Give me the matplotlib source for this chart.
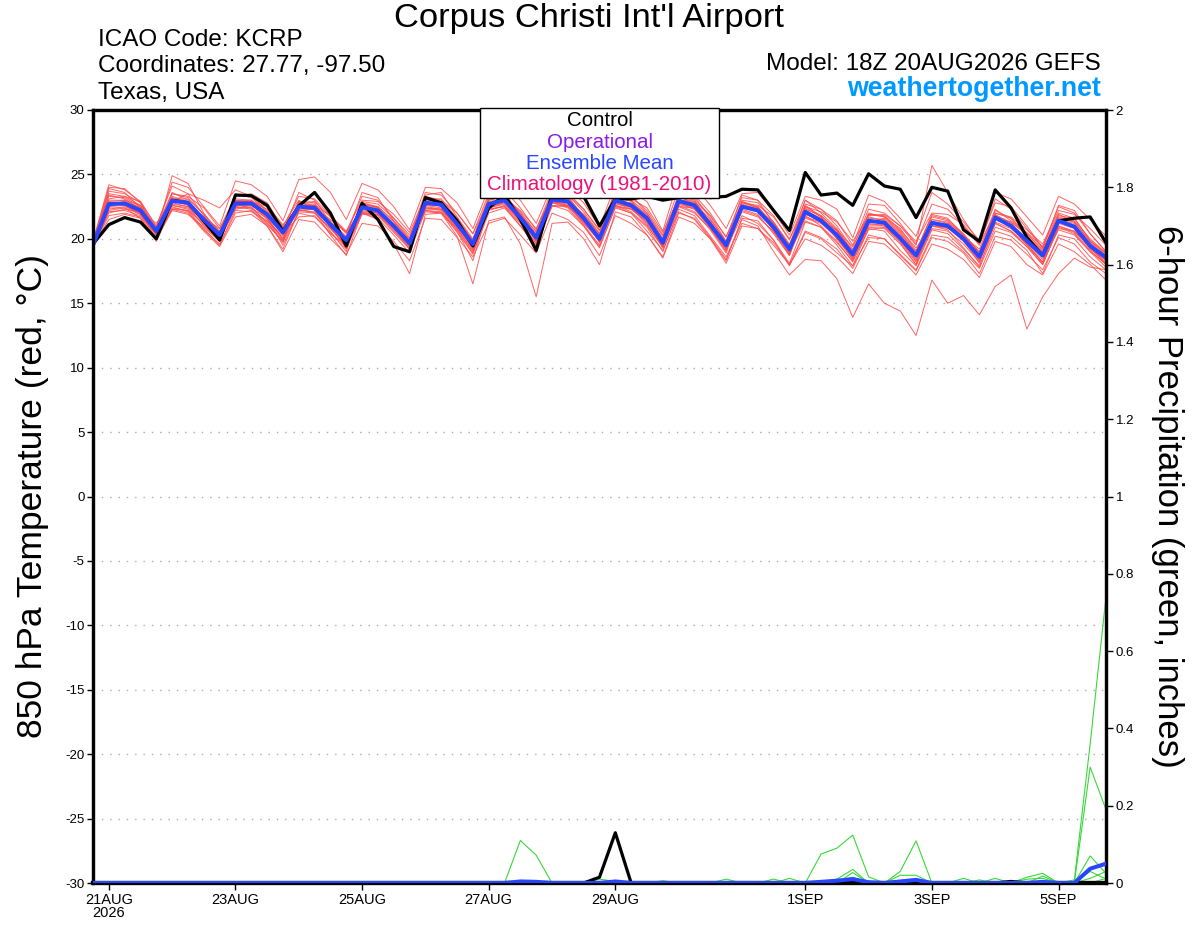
import matplotlib
matplotlib.use("Agg")
import matplotlib.pyplot as plt
from matplotlib.patches import Rectangle
import pandas as pd

plt.rcParams['font.family'] = ['Liberation Sans', 'DejaVu Sans']

# 6-hourly forecast times, 18Z 20AUG2026 -> 18Z 5SEP2026
times = pd.date_range("2026-08-20 18:00", periods=65, freq="6h")

tick_days = ["2026-08-21", "2026-08-23", "2026-08-25", "2026-08-27",
             "2026-08-29", "2026-09-01", "2026-09-03", "2026-09-05"]
tick_labels = ["21AUG\n2026", "23AUG", "25AUG", "27AUG", "29AUG", "1SEP", "3SEP", "5SEP"]

# 850 hPa temperature (C)
control_t = [19.6, 21.1,21.65,21.3,20.0, 23.0,22.8,21.4,19.9, 23.4,23.35,22.6,20.6,
             22.55,23.6,22.0,19.45, 22.75,21.5,19.4,19.0, 23.2,22.8,21.4,19.45,
             22.4,23.4,21.5,19.1, 23.4,23.6,23.3,21.0, 23.1,23.1,23.3,23.0,
             23.2,23.3,23.2,23.3, 23.85,23.8,22.2,20.65, 25.15,23.4,23.55,22.6,
             25.05,24.1,23.85,21.65, 24.0,23.7,20.7,19.8, 23.8,22.4,20.1,18.7,
             21.4,21.6,21.7,19.7]

mean_t = [19.5, 22.7,22.75,22.2,20.6, 22.95,22.8,21.5,20.3, 22.75,22.75,21.9,20.5,
          22.5,22.4,21.1,19.9, 22.45,22.2,21.0,19.65, 22.8,22.65,21.15,19.6,
          22.7,23.0,21.65,20.1, 23.05,22.9,21.6,20.0, 23.0,22.6,21.6,19.7,
          22.95,22.6,21.1,19.5, 22.5,22.2,20.9,19.2, 22.1,21.4,20.3,18.8,
          21.4,21.25,20.05,18.7, 21.25,21.0,20.0,18.6, 21.65,21.0,19.85,18.7,
          21.4,20.95,19.45,18.55]

members_t = [
    [19.8, 24.2,23.8,22.9,20.9, 24.4,24.0,22.5,21.0, 24.5,24.2,23.3,21.4, 24.6,24.8,23.6,21.5, 24.3,23.8,22.5,20.7, 24.0,23.9,22.8,20.8, 23.9,24.2,23.0,21.2, 24.1,23.9,22.8,20.9, 24.2,23.6,22.9,20.6, 24.7,24.1,22.6,20.8, 23.5,23.6,22.1,20.3, 23.3,23.0,22.3,20.1, 23.4,22.9,21.6,20.2, 23.6,22.7,21.3,19.9, 23.6,23.1,21.7,20.3, 23.3,22.7,21.5,20.2],
    [19.4, 21.5,21.9,21.6,20.1, 22.3,22.0,20.6,19.4, 21.7,21.9,21.0,19.0, 21.5,21.3,20.0,18.8, 21.2,21.0,19.8,18.3, 21.6,21.5,20.1,18.6, 21.2,21.6,20.3,18.9, 22.0,21.5,20.5,18.7, 21.8,21.2,20.3,18.5, 21.7,21.2,20.0,18.1, 21.0,20.8,19.5,18.0, 20.6,20.1,19.2,17.7, 20.3,20.0,18.7,17.5, 20.1,19.8,18.9,17.3, 20.2,19.9,18.8,17.6, 20.1,19.6,18.2,17.3],
    [19.6, 22.9,23.0,22.6,20.5, 23.3,22.9,21.3,20.0, 22.3,22.5,21.2,19.8, 22.0,21.7,20.5,19.2, 22.0,21.6,20.3,18.9, 22.2,22.0,20.8,19.1, 22.3,22.5,21.2,19.7, 22.6,22.2,21.0,19.4, 22.4,22.0,20.6,19.1, 22.1,21.5,20.0,18.3, 21.5,21.0,19.0,17.2, 18.4,18.3,16.9,13.9, 16.5,15.0,14.4,12.5, 16.8,15.0,15.6,14.1, 16.3,17.2,13.0,15.5, 17.3,18.5,17.8,17.6],
    [19.7, 23.4,23.1,22.3,20.8, 23.5,23.2,21.9,20.6, 23.1,23.0,22.0,20.4, 22.8,22.6,21.2,19.6, 22.3,22.0,20.7,19.2, 22.5,22.3,20.8,19.0, 22.2,22.6,21.3,19.6, 22.8,22.4,21.0,19.3, 22.5,22.0,20.9,19.0, 22.3,21.8,20.2,18.6, 21.2,20.8,19.7,18.0, 20.0,19.5,18.6,17.3, 19.8,19.6,18.5,17.2, 19.6,19.2,18.4,17.0, 19.8,19.4,18.0,17.2, 19.6,19.0,18.0,16.8],
    [19.5, 22.0,22.3,22.1,21.2, 22.9,23.5,23.0,22.4, 23.8,23.3,22.2,20.8, 22.4,22.6,21.8,20.6, 23.0,22.9,21.9,20.5, 23.3,23.0,22.0,20.4, 22.9,23.1,22.2,20.8, 23.4,23.4,22.3,20.7, 23.3,23.1,22.4,20.5, 23.2,22.9,21.8,20.2, 22.8,22.6,21.7,20.0, 22.5,22.1,21.3,19.8, 21.8,21.9,21.0,19.8, 22.0,21.9,21.1,19.6, 22.0,21.7,20.7,19.6, 22.2,21.9,20.8,19.5],
    [19.3, 22.5,22.6,21.9,20.3, 22.8,22.5,21.0,19.9, 22.5,22.7,21.5,19.9, 22.9,22.8,21.0,19.3, 22.1,21.8,20.5,19.2, 23.0,22.9,21.3,19.4, 23.2,23.5,21.9,19.8, 23.5,23.2,21.8,19.7, 23.3,22.9,21.8,19.3, 23.1,22.5,20.9,19.0, 22.9,22.5,21.1,19.0, 22.6,21.7,20.3,18.4, 21.7,21.4,20.3,18.6, 21.3,21.0,19.9,18.1, 21.8,20.9,19.6,18.2, 21.5,21.2,19.3,18.3],
    [19.6, 23.7,23.5,22.8,20.7, 23.0,22.6,21.4,20.1, 22.6,22.9,22.3,21.0, 23.0,22.2,20.6,19.0, 22.8,22.5,21.4,20.0, 23.3,22.5,21.0,19.2, 22.5,22.9,21.5,20.0, 23.0,22.8,21.9,20.4, 23.4,23.0,21.5,19.5, 23.6,23.3,21.6,19.7, 22.7,22.3,21.2,19.5, 23.0,22.0,20.8,19.0, 21.9,21.8,20.7,19.3, 21.0,20.8,20.2,19.2, 22.3,21.4,20.5,19.4, 22.0,21.6,19.8,18.9],
    [19.4, 22.1,22.2,21.8,20.4, 22.5,22.1,20.7,19.6, 22.2,22.1,21.4,20.2, 22.2,22.3,21.2,20.1, 22.7,22.4,20.9,19.5, 22.4,22.2,20.7,18.8, 22.0,22.4,21.0,19.5, 22.5,22.6,21.3,20.2, 22.6,22.3,21.4,19.8, 22.9,22.8,21.5,19.8, 22.3,21.9,20.4,18.7, 21.8,21.0,19.8,18.2, 21.0,21.0,19.7,18.0, 21.5,21.2,20.1,18.3, 21.2,20.6,19.4,18.0, 21.0,20.5,19.1,18.0],
    [19.7, 23.1,23.3,22.9,21.0, 24.1,23.5,21.8,20.3, 23.0,22.8,21.6,19.5, 22.1,22.0,20.8,19.6, 22.9,22.7,21.6,20.3, 22.9,22.5,21.2,19.4, 23.1,23.2,21.9,20.3, 23.6,23.3,21.7,20.1, 23.2,22.7,21.5,19.6, 22.8,22.4,21.3,19.6, 22.6,22.3,21.3,19.6, 21.9,21.6,20.6,19.1, 21.3,21.6,20.5,18.9, 21.8,21.5,20.4,18.9, 21.6,21.3,20.4,19.1, 21.9,21.3,19.8,18.7],
    [19.5, 22.8,22.6,22.0,20.0, 22.2,21.9,20.9,19.8, 22.9,23.0,22.0,20.4, 21.7,21.8,20.4,19.5, 22.6,22.5,21.3,19.9, 22.1,22.0,20.6,18.3, 22.5,22.8,21.4,20.0, 22.9,22.6,21.1,19.5, 22.7,22.5,21.7,19.9, 22.6,22.1,20.7,18.9, 22.4,22.5,21.0,19.0, 21.6,21.2,20.1,18.5, 20.9,20.8,19.6,18.0, 21.0,20.7,19.3,17.8, 21.3,20.8,19.7,18.4, 20.7,20.3,19.0,17.8],
    [19.6, 23.9,23.6,22.4,20.3, 24.9,24.3,22.0,20.4, 23.5,23.2,22.1,20.5, 23.6,23.0,21.3,20.2, 23.6,23.2,21.4,19.9, 23.4,23.6,21.7,20.0, 23.3,23.5,21.8,19.9, 23.1,23.0,21.9,20.3, 23.7,23.4,22.0,20.0, 23.2,23.1,21.8,19.8, 23.4,23.0,21.2,19.3, 22.7,22.3,21.0,19.2, 22.3,22.0,21.0,19.5, 25.7,23.6,21.5,19.7, 22.8,22.5,21.0,19.3, 22.6,22.2,20.4,19.0],
    [19.5, 22.4,22.4,21.9,20.5, 22.6,22.3,21.1,19.8, 22.7,22.4,21.6,20.0, 22.8,22.9,21.7,20.4, 22.0,21.9,20.6,19.4, 22.6,22.6,21.4,19.9, 23.0,23.3,22.0,20.3, 22.9,22.7,21.5,19.9, 22.8,22.4,21.1,19.3, 22.5,22.4,21.4,19.4, 22.8,22.4,20.7,18.8, 22.3,21.8,20.7,18.9, 21.5,21.2,19.9,18.4, 21.2,21.2,20.2,18.7, 21.9,21.2,20.0,18.6, 21.2,20.8,19.2,18.3],
    [19.7, 23.0,23.0,22.4,20.7, 23.1,23.1,21.9,20.5, 22.4,22.6,21.9,20.7, 22.6,22.5,21.4,19.8, 22.3,22.3,21.1,19.6, 22.9,22.8,21.6,19.8, 22.7,23.1,21.8,20.6, 23.2,23.1,21.6,20.0, 22.9,22.8,21.9,19.8, 23.3,23.0,21.2,19.3, 22.6,22.1,21.0,19.3, 22.2,21.6,20.4,18.9, 21.6,21.5,20.4,18.9, 21.5,21.3,20.3,18.8, 21.5,21.0,19.9,18.8, 21.6,21.3,19.7,18.6],
    [19.5, 22.6,22.9,22.4,20.9, 23.2,22.8,21.2,20.0, 22.6,22.6,21.7,20.3, 22.3,22.0,20.8,19.4, 21.9,21.9,20.8,19.7, 22.3,22.3,21.0,19.6, 22.8,23.0,21.6,19.9, 23.0,22.9,21.4,19.8, 22.9,22.5,21.2,19.4, 22.8,22.3,20.8,19.1, 22.2,21.8,20.5,18.9, 21.4,20.9,19.7,18.3, 20.7,20.9,19.8,18.2, 20.8,20.6,19.6,18.2, 21.2,20.6,19.6,18.1, 20.8,20.6,19.4,18.1],
    [19.4, 22.3,22.5,22.0,20.8, 23.0,22.7,21.6,20.8, 23.0,22.9,22.5,21.1, 22.5,22.4,21.5,20.5, 22.4,22.1,21.1,19.8, 22.7,22.7,21.5,19.9, 22.6,22.9,21.6,20.4, 23.2,22.8,21.2,19.9, 23.0,22.7,21.5,19.9, 22.9,22.6,21.2,19.8, 22.5,22.2,21.0,19.2, 21.7,21.3,20.7,19.4, 21.9,21.7,20.8,19.1, 21.7,21.4,20.3,19.0, 22.0,21.6,20.4,19.2, 21.7,21.4,20.0,18.9],
    [19.6, 23.3,23.2,22.5,20.6, 22.7,22.5,21.7,20.6, 22.9,22.9,21.6,20.0, 22.5,22.6,21.0,19.6, 22.6,22.3,21.0,19.5, 22.6,22.4,20.9,19.3, 22.4,22.7,21.4,19.8, 22.8,22.6,21.7,20.2, 22.8,22.3,21.3,19.5, 23.0,22.9,21.3,19.7, 22.9,22.4,20.6,18.7, 22.4,21.7,20.0,18.6, 21.2,21.0,19.9,18.3, 21.0,20.9,19.8,18.3, 21.6,21.0,19.5,18.2, 21.0,20.6,19.3,18.0],
    [19.5, 22.6,22.7,22.1,20.4, 22.6,22.4,21.4,20.2, 22.6,22.7,21.9,20.6, 22.2,22.3,21.0,19.9, 22.1,22.0,21.0,19.8, 22.4,22.3,21.1,19.7, 22.4,22.8,21.7,20.3, 22.9,22.5,21.3,19.8, 22.6,22.1,21.0,19.4, 22.5,22.0,20.8,19.2, 21.8,21.2,19.9,17.9, 20.5,20.0,18.9,17.9, 20.1,20.0,18.8,17.6, 20.3,20.1,19.0,17.7, 20.6,20.2,19.1,17.3, 20.3,20.0,18.6,17.6],
    [19.8, 24.0,23.9,22.8,20.5, 23.5,23.3,22.4,20.8, 23.3,23.5,22.8,20.9, 23.3,23.1,21.8,20.5, 23.3,23.0,21.6,20.1, 23.6,23.4,22.0,20.4, 23.5,23.8,22.4,20.7, 23.8,23.6,22.3,20.6, 23.7,23.3,22.2,20.3, 23.9,23.4,22.0,20.1, 23.2,23.0,21.8,19.9, 23.0,22.3,21.4,19.5, 22.7,22.6,21.2,19.6, 22.7,22.3,21.0,19.5, 23.1,22.3,20.8,19.3, 22.5,22.0,20.4,19.0],
    [19.4, 21.8,22.0,21.7,20.3, 22.3,22.2,21.2,20.1, 22.4,22.4,21.3,19.7, 22.7,22.7,21.3,19.9, 22.2,22.0,21.0,19.5, 22.2,22.1,20.5,18.9, 22.3,22.5,21.0,19.4, 22.6,22.5,21.6,20.1, 22.5,22.3,21.7,20.0, 22.7,22.3,21.0,19.4, 22.1,21.7,20.6,19.1, 21.9,21.4,20.0,18.4, 21.1,21.1,20.0,18.6, 21.1,20.9,19.9,18.5, 21.8,21.3,20.3,18.9, 21.4,21.0,19.6,18.4],
    [19.6, 23.5,23.3,22.6,20.8, 23.6,23.0,21.5,20.2, 22.5,22.3,21.1,19.8, 22.9,22.4,20.9,19.3, 22.8,22.4,20.8,19.3, 23.1,23.1,21.6,19.8, 23.0,23.3,22.1,20.5, 23.5,23.4,22.1,20.4, 23.4,23.0,22.0,20.2, 23.3,22.7,21.1,19.2, 23.0,22.8,21.3,19.5, 22.5,21.8,20.6,18.8, 22.0,21.7,20.6,19.0, 21.9,21.6,20.3,18.9, 22.2,21.6,20.2,19.0, 21.8,21.6,19.9,18.8],
    [19.5, 22.2,22.4,21.6,19.8, 22.4,22.2,20.8,19.5, 22.0,22.2,21.0,19.2, 22.2,22.1,20.3,18.7, 22.0,21.5,19.6,17.3, 21.9,22.0,20.2,16.5, 21.4,21.7,19.6,15.5, 21.2,21.3,20.0,18.0, 22.1,21.7,20.3,18.6, 22.0,21.6,20.1,18.4, 21.6,21.4,19.9,18.1, 21.3,20.9,19.5,17.9, 20.8,20.6,19.1,17.9, 20.7,20.4,19.2,17.9, 20.9,20.5,19.4,18.0, 20.9,20.4,19.0,18.1],
]

# 6-hour precipitation (inches)
control_p = [0, 0,0,0,0, 0,0,0,0, 0,0,0,0, 0,0,0,0, 0,0,0,0, 0,0,0,0, 0,0,0,0, 0,0,0,0.015,
             0.13,0,0,0, 0,0,0,0, 0,0,0,0, 0,0,0,0, 0,0,0,0, 0,0,0,0, 0,0.004,0,0, 0,0,0,0]

mean_p = [0, 0,0,0,0, 0,0,0,0, 0,0,0,0, 0,0,0,0, 0,0,0,0, 0,0,0,0, 0,0,0.004,0.003, 0,0,0,0,
          0.004,0,0,0, 0,0,0,0, 0,0,0,0, 0,0.003,0.006,0.01, 0.002,0,0.004,0.008, 0,0,0,0,
          0,0,0,0.003, 0,0,0.037,0.05]

members_p = [
    [0, 0,0,0,0, 0,0,0,0, 0,0,0,0, 0,0,0,0, 0,0,0,0, 0,0,0,0, 0,0,0.11,0.072, 0,0,0,0,
     0,0,0,0, 0,0,0,0, 0,0,0,0, 0,0,0,0, 0,0,0,0, 0,0,0,0, 0,0,0,0, 0,0.008,0.36,0.74],
    [0, 0,0,0,0, 0,0,0,0, 0,0,0,0, 0,0,0,0, 0,0,0,0, 0,0,0,0, 0,0,0,0, 0,0,0,0,
     0,0,0,0, 0,0,0,0, 0,0,0,0, 0,0.075,0.09,0.124, 0.016,0,0,0, 0,0,0,0, 0,0,0,0, 0,0,0.30,0.19],
    [0, 0,0,0,0, 0,0,0,0, 0,0,0,0, 0,0,0,0, 0,0,0,0, 0,0,0,0, 0,0,0,0, 0,0,0,0,
     0,0,0,0, 0,0,0,0, 0,0,0,0, 0,0,0,0.027, 0,0,0.03,0.109, 0,0,0,0, 0,0,0,0, 0,0,0.07,0.025],
    [0, 0,0,0,0, 0,0,0,0, 0,0,0,0, 0,0,0,0, 0,0,0,0, 0,0,0,0, 0,0,0,0.005, 0,0,0,0.01,
     0.004,0,0,0, 0,0,0,0.01, 0,0,0,0.012, 0,0,0.01,0.035, 0,0,0.02,0.02, 0,0,0.012,0,
     0.012,0,0.015,0.025, 0,0,0.03,0.01],
    [0, 0,0,0,0, 0,0,0,0, 0,0,0,0, 0,0,0,0, 0,0,0,0, 0,0,0,0, 0,0,0,0, 0,0,0,0,
     0,0,0,0, 0,0,0,0, 0,0,0.01,0, 0,0,0.005,0.015, 0,0,0,0.01, 0,0,0,0.008,
     0,0,0,0.018, 0,0,0.012,0.03],
    [0, 0,0,0,0, 0,0,0,0, 0,0,0,0, 0,0,0,0, 0,0,0,0, 0,0,0,0, 0,0,0,0, 0,0,0,0,
     0,0,0,0.006, 0,0,0,0, 0,0,0,0, 0,0,0,0.008, 0,0,0,0, 0,0,0,0, 0,0,0.01,0.012, 0,0,0,0.012],
]

fig = plt.figure(figsize=(12, 9.27), dpi=100)
ax = fig.add_axes([93/1200, 1-883/927, (1106-93)/1200, (883-110)/927])
ax2 = ax.twinx()

for m in members_t:
    ax.plot(times, m, color='#ff4a4a', lw=0.7, alpha=0.85, zorder=2)
ax.plot(times, control_t, color='black', lw=2.3, zorder=3)
ax.plot(times, mean_t, color='#2846ff', lw=2.9, zorder=4)

for m in members_p:
    ax2.plot(times, m, color='#3ad83a', lw=0.8, zorder=2)
ax2.plot(times, control_p, color='black', lw=2.3, zorder=3)
ax2.plot(times, mean_p, color='#2846ff', lw=2.9, zorder=4)

ax.set_xlim(times[0], times[-1])
ax.set_ylim(-30, 30)
ax2.set_ylim(0, 2)

yt = list(range(-30, 31, 5))
ax.set_yticks(yt)
ax.set_yticklabels([str(v) for v in yt], fontsize=9.5)
for v in yt[1:-1]:
    ax.axhline(v, color='#aaaaaa', lw=1, ls=(0, (1, 5)), zorder=1)

pt = [0, 0.2, 0.4, 0.6, 0.8, 1, 1.2, 1.4, 1.6, 1.8, 2]
ax2.set_yticks(pt)
ax2.set_yticklabels(['0', '0.2', '0.4', '0.6', '0.8', '1', '1.2', '1.4', '1.6', '1.8', '2'], fontsize=9.5)

ax.set_xticks(pd.to_datetime(tick_days))
ax.set_xticklabels(tick_labels, fontsize=10.5, linespacing=0.95)

ax.tick_params(axis='y', length=4, width=1, pad=2)
ax2.tick_params(axis='y', length=5, width=1, pad=2)
ax.tick_params(axis='x', length=5, width=1, pad=2)

for a in (ax, ax2):
    for s in a.spines.values():
        s.set_linewidth(2.3)
    a.spines['bottom'].set_linewidth(3)

ax.set_ylabel('850 hPa Temperature (red, \u00b0C)', fontsize=25.5, labelpad=12)
ax2.set_ylabel('6-hour Precipitation (green, inches)', fontsize=25, rotation=-90, labelpad=36)

# header texts
fig.text(589/1200, 1-18/927, "Corpus Christi Int'l Airport", fontsize=24.8, ha='center', va='center')
fig.text(98/1200, 1-40/927, "ICAO Code: KCRP", fontsize=17.5, ha='left', va='center')
fig.text(98/1200, 1-66/927, "Coordinates: 27.77, -97.50", fontsize=17.5, ha='left', va='center')
fig.text(98/1200, 1-93/927, "Texas, USA", fontsize=17.5, ha='left', va='center')
fig.text(1101/1200, 1-64/927, "Model: 18Z 20AUG2026 GEFS", fontsize=17.5, ha='right', va='center')
fig.text(1101/1200, 1-89/927, "weathertogether.net", fontsize=19.3, ha='right', va='center',
         color='#0099ff', fontweight='bold')

# legend box
fig.add_artist(Rectangle((480/1200, 1-198/927), (719-480)/1200, (198-108)/927,
                         transform=fig.transFigure, facecolor='white', edgecolor='black',
                         lw=1, zorder=5))
legend_items = [("Control", 'black'), ("Operational", '#8a1be6'),
                ("Ensemble Mean", '#2846ff'), ("Climatology (1981-2010)", '#e8127a')]
for k, (txt, col) in enumerate(legend_items):
    fig.text(599.5/1200, 1-(121+21.3*k)/927, txt, color=col, fontsize=14.8,
             ha='center', va='center', zorder=6)

fig.savefig('out.png', dpi=100)
